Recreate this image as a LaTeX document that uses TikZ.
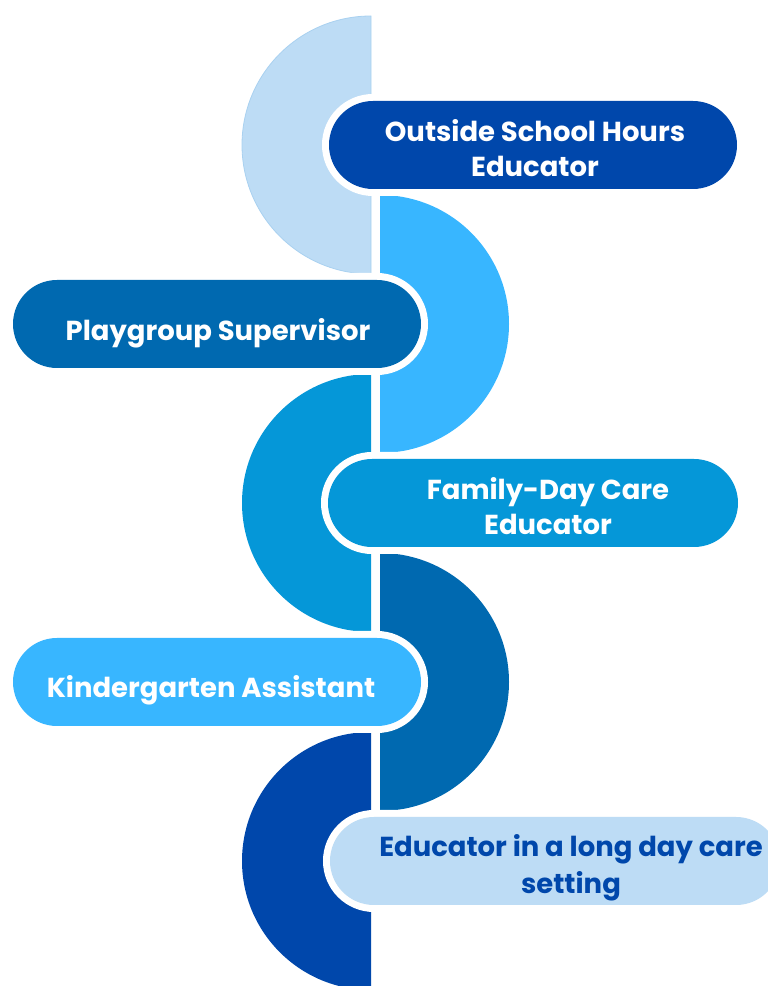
\documentclass[tikz,border=0pt]{standalone}
\usepackage{fontspec}
\newfontfamily\pop{Poppins}
\usetikzlibrary{shapes.misc}
\definecolor{paleblue}{HTML}{BDDCF5}
\definecolor{paleedge}{HTML}{A9D1F0}
\definecolor{skyblue}{HTML}{38B6FF}
\definecolor{midblue}{HTML}{0597D8}
\definecolor{deepblue}{HTML}{0069B0}
\definecolor{navyblue}{HTML}{0047AB}
\begin{document}
\begin{tikzpicture}[x=0.75pt, y=0.75pt,
  pill/.style={rounded rectangle, inner sep=0pt, minimum height=88*0.75pt,
    preaction={draw=white, line width=14*0.75pt}},
  lbl/.style={font=\pop\bfseries\fontsize{20.6}{26.3}\selectfont, align=center, text=white}]
\useasboundingbox (0,0) rectangle (768,986);
% half discs of the winding band (left: flat side right, right: flat side left)
\fill[paleblue, draw=paleedge, line width=0.6] (371,970) arc[start angle=90, end angle=270, radius=129] -- cycle;
\fill[skyblue] (380,791) arc[start angle=90, end angle=-90, radius=129] -- cycle;
\fill[midblue] (371,612) arc[start angle=90, end angle=270, radius=129] -- cycle;
\fill[deepblue] (380,433) arc[start angle=90, end angle=-90, radius=129] -- cycle;
\begin{scope}
\clip (0,0) rectangle (768,986);
\fill[navyblue] (371,254) arc[start angle=90, end angle=270, radius=129] -- cycle;
\end{scope}
% role pills
\node[pill, fill=navyblue, minimum width=408*0.75pt] (p1) at (533,841) {};
\node[pill, fill=deepblue, minimum width=408*0.75pt] (p2) at (217,662) {};
\node[pill, fill=midblue, minimum width=410*0.75pt] (p3) at (533,483) {};
\node[pill, fill=skyblue, minimum width=408*0.75pt] (p4) at (217,304) {};
\begin{scope}
\clip (0,0) rectangle (768,986);
\node[pill, fill=paleblue, minimum width=450*0.75pt] (p5) at (555,125) {};
\end{scope}
% labels
\node[lbl] (t1) at ([xshift=2*0.75pt, yshift=-3*0.75pt]p1.center) {Outside School Hours\\Educator};
\node[lbl] (t2) at ([xshift=1*0.75pt, yshift=-9*0.75pt]p2.center) {Playgroup Supervisor};
\node[lbl] (t3) at ([xshift=15*0.75pt, yshift=-3*0.75pt]p3.center) {Family-Day Care\\Educator};
\node[lbl] (t4) at ([xshift=-6*0.75pt, yshift=-8*0.75pt]p4.center) {Kindergarten Assistant};
\node[lbl, text=navyblue, font=\pop\bfseries\fontsize{20.6}{28}\selectfont] (t5) at ([xshift=16*0.75pt, yshift=-7*0.75pt]p5.center) {Educator in a long day care\\setting};
\end{tikzpicture}
\end{document}
